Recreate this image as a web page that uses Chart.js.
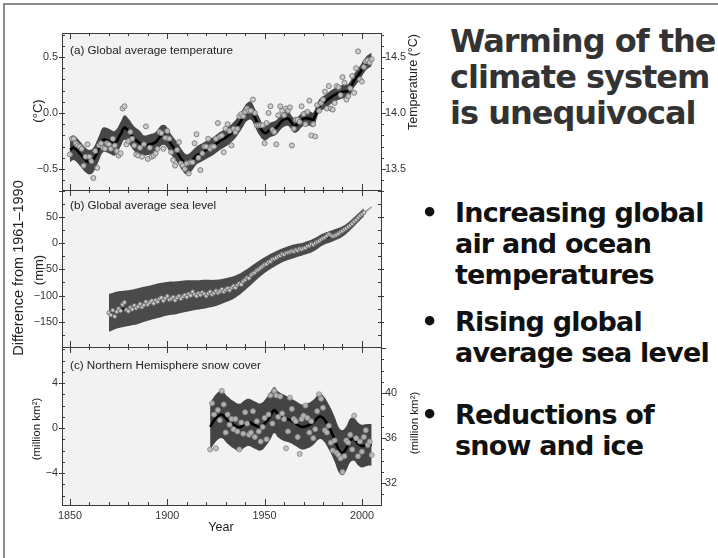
<!DOCTYPE html>
<html>
<head>
<meta charset="utf-8">
<script src="https://cdn.jsdelivr.net/npm/chart.js@4.4.1/dist/chart.umd.min.js"></script>
<style>
html, body { margin: 0; padding: 0; background: #fff; }
#page { position: relative; width: 718px; height: 558px; overflow: hidden; background: #fff;
        font-family: "Liberation Sans", Arial, sans-serif; }
#frame { position: absolute; left: 3px; top: 3px; width: 730px; height: 570px;
         border-top: 2px solid #8c8c8c; border-left: 2px solid #8c8c8c; }
canvas { position: absolute; left: 0; top: 0; }
.lbl { position: absolute; white-space: nowrap; color: #222; line-height: 1; }
.rot { transform: translate(-50%, -50%) rotate(-90deg); }
.ptitle { position: absolute; left: 70px; white-space: nowrap; color: #222; font-size: 11.7px;
          line-height: 1; transform: translateY(-50%); }
.ttl { position: absolute; left: 450px; top: 23px; font: bold 32px/36px "DejaVu Sans", Verdana, sans-serif;
       letter-spacing: -1px; color: #333; white-space: nowrap; z-index: 2; }
.bl { position: absolute; left: 455px; font: bold 27px/31px "DejaVu Sans", Verdana, sans-serif;
      letter-spacing: -0.8px; color: #111; white-space: nowrap; z-index: 2; }
.dot { position: absolute; left: 421px; font: bold 27px/31px "DejaVu Sans", Verdana, sans-serif;
       color: #111; z-index: 2; }
</style>
</head>
<body>
<div id="page">
  <div id="frame"></div>
  <canvas id="chartA" width="440" height="558"></canvas>
  <canvas id="chartB" width="440" height="558"></canvas>
  <canvas id="chartC" width="440" height="558"></canvas>

  <div class="ptitle" style="top:50px">(a) Global average temperature</div>
  <div class="ptitle" style="top:205px">(b) Global average sea level</div>
  <div class="ptitle" style="top:365px">(c) Northern Hemisphere snow cover</div>

  <div class="lbl rot" style="left:18px;top:268px;font-size:14.5px">Difference from 1961–1990</div>
  <div class="lbl rot" style="left:37px;top:111px;font-size:13px">(°C)</div>
  <div class="lbl rot" style="left:38px;top:270px;font-size:13px">(mm)</div>
  <div class="lbl rot" style="left:37px;top:429px;font-size:11.5px">(million km²)</div>
  <div class="lbl rot" style="left:413px;top:82px;font-size:12.5px">Temperature (°C)</div>
  <div class="lbl rot" style="left:415px;top:423px;font-size:11.5px">(million km²)</div>
  <div class="lbl" style="left:221px;top:527px;font-size:12.5px;transform:translate(-50%,-50%)">Year</div>

  <div class="ttl">Warming of the<br>climate system<br>is unequivocal</div>

  <div class="dot" style="top:197px">•</div>
  <div class="bl" style="top:197px">Increasing global<br>air and ocean<br>temperatures</div>
  <div class="dot" style="top:306px">•</div>
  <div class="bl" style="top:306px">Rising global<br>average sea level</div>
  <div class="dot" style="top:399px">•</div>
  <div class="bl" style="top:399px">Reductions of<br>snow and ice</div>
</div>

<script>
// ---- (a) global average temperature, anomaly from 1961-1990 (deg C), 1850-2005
const tempStart = 1850;
const tempAnom = [
  -0.37, -0.23, -0.23, -0.27, -0.29, -0.30, -0.32, -0.47, -0.39, -0.28,
  -0.39, -0.43, -0.58, -0.34, -0.49, -0.29, -0.27, -0.31, -0.32, -0.27,
  -0.28, -0.32, -0.23, -0.29, -0.34, -0.38, -0.36, 0.04, 0.06, -0.28,
  -0.25, -0.17, -0.23, -0.29, -0.37, -0.38, -0.31, -0.39, -0.28, -0.12,
  -0.41, -0.31, -0.39, -0.38, -0.36, -0.32, -0.17, -0.18, -0.32, -0.22,
  -0.16, -0.23, -0.35, -0.42, -0.47, -0.33, -0.26, -0.45, -0.47, -0.50,
  -0.45, -0.54, -0.44, -0.44, -0.27, -0.19, -0.40, -0.51, -0.36, -0.30,
  -0.30, -0.23, -0.32, -0.30, -0.30, -0.23, -0.09, -0.21, -0.20, -0.35,
  -0.14, -0.10, -0.16, -0.29, -0.14, -0.17, -0.14, -0.03, -0.01, -0.03,
  0.01, 0.04, 0.02, 0.02, 0.12, 0.00, -0.11, -0.11, -0.11, -0.11,
  -0.27, -0.09, 0.00, 0.06, -0.15, -0.17, -0.28, -0.02, 0.06, 0.02,
  -0.02, 0.04, 0.02, 0.05, -0.29, -0.14, -0.06, -0.06, -0.08, 0.06,
  -0.01, -0.10, 0.01, 0.11, -0.20, -0.10, -0.21, 0.07, 0.02, 0.09,
  0.12, 0.19, 0.04, 0.24, 0.04, 0.03, 0.09, 0.24, 0.23, 0.16,
  0.32, 0.27, 0.12, 0.15, 0.22, 0.33, 0.18, 0.40, 0.55, 0.30,
  0.28, 0.41, 0.46, 0.47, 0.45, 0.48
];
const tempSmoothYears = [1850, 1852, 1855, 1858, 1860, 1862, 1865, 1867, 1870, 1873,
  1876, 1878, 1880, 1883, 1886, 1888, 1891, 1894, 1897, 1899,
  1902, 1905, 1908, 1910, 1912, 1915, 1918, 1921, 1924, 1927,
  1930, 1933, 1936, 1939, 1941, 1943, 1945, 1947, 1950, 1953,
  1956, 1959, 1962, 1965, 1967, 1970, 1973, 1975, 1978, 1981,
  1984, 1987, 1990, 1993, 1996, 1999, 2002, 2005];
const tempSmooth = [-0.33, -0.31, -0.36, -0.42, -0.44, -0.42, -0.31, -0.24, -0.25, -0.27,
  -0.19, -0.13, -0.16, -0.23, -0.27, -0.29, -0.28, -0.26, -0.20, -0.20,
  -0.28, -0.35, -0.43, -0.46, -0.44, -0.38, -0.35, -0.32, -0.29, -0.25,
  -0.22, -0.18, -0.12, -0.04, 0.01, 0.02, -0.04, -0.11, -0.18, -0.15,
  -0.13, -0.07, -0.05, -0.11, -0.10, -0.05, -0.05, -0.06, 0.06, 0.10,
  0.14, 0.17, 0.19, 0.20, 0.29, 0.36, 0.44, 0.48];
const tempHalf = [0.11, 0.11, 0.11, 0.11, 0.11, 0.11, 0.11, 0.11, 0.11, 0.11,
  0.11, 0.11, 0.11, 0.11, 0.11, 0.09, 0.09, 0.09, 0.09, 0.09,
  0.09, 0.09, 0.09, 0.09, 0.09, 0.08, 0.08, 0.08, 0.08, 0.08,
  0.08, 0.08, 0.08, 0.08, 0.08, 0.08, 0.08, 0.08, 0.065, 0.065,
  0.065, 0.065, 0.065, 0.065, 0.065, 0.065, 0.065, 0.065, 0.06, 0.06,
  0.06, 0.06, 0.06, 0.06, 0.06, 0.06, 0.06, 0.06];
const tempTicks = [-0.5, 0.0, 0.5];
const tempRightTicks = [13.5, 14.0, 14.5];

// ---- (b) global average sea level (mm), 1870-2001 + satellite
const seaStart = 1870;
const seaLevel = [
  -133, -137, -128, -140, -131, -125, -129, -117, -113, -127,
  -130, -123, -126, -119, -124, -121, -116, -122, -118, -112,
  -117, -113, -110, -115, -109, -112, -106, -104, -110, -105,
  -101, -108, -106, -103, -109, -104, -101, -106, -102, -99,
  -103, -97, -100, -93, -98, -101, -96, -99, -94, -97,
  -101, -96, -93, -98, -95, -91, -95, -92, -88, -93,
  -89, -86, -90, -85, -82, -85, -80, -77, -79, -73,
  -70, -66, -67, -61, -58, -56, -52, -50, -47, -44,
  -41, -40, -36, -35, -31, -30, -28, -25, -24, -21,
  -22, -19, -18, -17, -15, -16, -13, -14, -11, -12,
  -10, -9, -6, -5, -2, -3, 0, 2, 4, 7,
  9, 11, 14, 17, 15, 13, 14, 16, 18, 21,
  23, 26, 28, 31, 34, 37, 41, 44, 48, 52,
  55, 58
];
const seaSmoothYears = [1870, 1875, 1880, 1885, 1890, 1895, 1900, 1905, 1910, 1915,
  1920, 1925, 1930, 1935, 1940, 1945, 1950, 1955, 1960, 1965,
  1970, 1975, 1980, 1985, 1990, 1995, 2000, 2001];
const seaSmooth = [-133, -127, -124, -120, -115, -110, -106, -104, -101, -99,
  -97, -95, -90, -83, -71, -56, -42, -31, -22, -16,
  -11, -4, 7, 14, 22, 37, 55, 58];
const seaHalf = [36, 35, 34, 34, 33, 33, 32, 31, 30, 28,
  27, 25, 23, 21, 19, 17, 15, 14, 13, 13,
  12, 12, 11, 11, 10, 9, 8, 8];
const seaSatYears = [1993, 1995, 1997, 1999, 2001, 2003, 2005];
const seaSat = [30, 36, 44, 50, 57, 63, 69];
const seaTicks = [-150, -100, -50, 0, 50];

// ---- (c) Northern Hemisphere snow cover (million km2), 1922-2005
const snowStart = 1922;
const snowCover = [
  -1.9, 2.2, 1.2, -1.8, 1.6, 0.7, 3.3, 2.1,
  -0.4, 1.2, 0.3, 0.8, -0.1, 0.8, -0.3, -1.9, 0.5, -0.5,
  1.4, 0.4, -0.6, -0.4, 1.5, -0.8, 0.6, -0.3, -1.2, 0.1,
  0.9, -1.0, 1.2, 2.9, 0.4, 3.3, 2.9, 1.0, 2.8, 1.3,
  0.8, -1.8, -0.3, 2.7, 1.7, 0.8, 0.6, -0.8, -2.3, 0.8,
  1.1, 2.0, 0.9, -0.4, 0.6, -0.9, -0.1, 1.5, 3.0, 2.6,
  1.8, -0.2, -0.4, 0.2, -1.3, -2.0, -1.1, -2.2, -2.4, -2.7,
  -3.9, -2.5, -1.1, -1.3, -0.6, -1.9, 1.1, -0.9, -2.5, -1.2,
  -2.1, -0.8, -0.2, -1.5, -1.2, -2.4
];
const snowSmoothYears = [1922, 1925, 1928, 1931, 1934, 1937, 1940, 1942, 1945, 1948,
  1951, 1953, 1955, 1957, 1960, 1963, 1966, 1969, 1972, 1975,
  1978, 1980, 1983, 1986, 1988, 1990, 1992, 1994, 1996, 1998,
  2000, 2003, 2005];
const snowSmooth = [0.1, 0.9, 1.2, 0.7, 0.3, 0.05, 0.4, 0.5, 0.25, 0.1,
  0.6, 1.1, 1.6, 1.2, 0.9, 0.7, 0.4, 0.1, 0.2, 0.5,
  1.0, 0.9, 0.1, -1.0, -1.9, -2.2, -1.8, -1.1, -1.0, -1.4,
  -1.6, -1.5, -1.5];
const snowHalf = [2.1, 2.1, 2.1, 2.1, 2.1, 2.1, 2.1, 2.1, 2.1, 2.1,
  2.1, 2.1, 2.05, 2.05, 2.05, 2.0, 2.0, 2.0, 2.0, 2.0,
  2.0, 2.0, 2.0, 2.0, 2.0, 2.0, 1.95, 1.95, 1.9, 1.9,
  1.9, 1.85, 1.85];
const snowTicks = [-4, 0, 4];
const snowRightTicks = [32, 36, 40];
const yearTicks = [1850, 1900, 1950, 2000];

// ---------------------------------------------------------------------------
Chart.defaults.font.family = '"Liberation Sans", Arial, sans-serif';
Chart.defaults.font.size = 10.8;
Chart.defaults.color = '#333';

const X_MIN = 1845.9, X_MAX = 2009.8;

function annual(start, vals) {
  return vals.map((v, i) => ({ x: start + i, y: v }));
}
function pairs(xs, ys) {
  return ys.map((y, i) => ({ x: xs[i], y: y }));
}
function edge(xs, ys, hw, sign) {
  return ys.map((y, i) => ({ x: xs[i], y: y + sign * hw[i] }));
}
function fmt(d) {
  return v => (v < 0 ? '\u2212' : '') + Math.abs(v).toFixed(d);
}
function fixedTicks(list) {
  return s => { s.ticks = list.map(v => ({ value: v })); };
}

// panel background, frame and inward / outward tick marks
const framePlugin = {
  id: 'frame',
  beforeDraw(chart) {
    const a = chart.chartArea, ctx = chart.ctx;
    ctx.save();
    ctx.fillStyle = '#f2f2f2';
    ctx.fillRect(a.left, a.top, a.right - a.left, a.bottom - a.top);
    ctx.restore();
  },
  afterDraw(chart, args, opts) {
    const a = chart.chartArea, ctx = chart.ctx, sx = chart.scales.x;
    ctx.save();
    ctx.strokeStyle = '#3a3a3a';
    ctx.lineWidth = 1;
    ctx.beginPath();
    for (let yr = 1850; yr <= 2000; yr += 10) {
      const x = Math.round(sx.getPixelForValue(yr)) + 0.5;
      const len = yr % 50 === 0 ? 6 : 3;
      ctx.moveTo(x, a.top); ctx.lineTo(x, a.top + len);
      ctx.moveTo(x, a.bottom); ctx.lineTo(x, a.bottom - len);
    }
    const side = (scale, x, dir, o) => {
      for (let k = Math.ceil(scale.min / o.minor - 1e-9); k * o.minor <= scale.max + 1e-9; k++) {
        const v = k * o.minor;
        const y = Math.round(scale.getPixelForValue(v)) + 0.5;
        const maj = Math.abs(v / o.major - Math.round(v / o.major)) < 1e-6;
        if (o.out) {
          ctx.moveTo(x, y); ctx.lineTo(x - dir * (maj ? 5 : 3), y);
        } else {
          ctx.moveTo(x - (maj ? dir * 3 : 0), y); ctx.lineTo(x + dir * 3, y);
        }
      }
    };
    side(chart.scales.y, a.left, 1, opts.left);
    side(chart.scales[opts.right.scale], a.right, -1, opts.right);
    ctx.stroke();
    ctx.strokeRect(Math.round(a.left) + 0.5, Math.round(a.top) + 0.5,
                   Math.round(a.right - a.left), Math.round(a.bottom - a.top));
    ctx.restore();
  }
};

function yAxis(pos, min, max, ticks, dec, width) {
  return {
    position: pos, min: min, max: max,
    afterBuildTicks: fixedTicks(ticks),
    afterFit: s => { s.width = width; },
    ticks: { callback: fmt(dec), padding: 4, color: '#333' },
    grid: { display: false, drawTicks: false },
    border: { display: false }
  };
}

function panel(id, datasets, scales, padding, frameOpts) {
  return new Chart(document.getElementById(id), {
    type: 'line',
    data: { datasets: datasets },
    options: {
      responsive: false,
      animation: false,
      devicePixelRatio: 1,
      events: [],
      layout: { padding: padding },
      plugins: { legend: { display: false }, tooltip: { enabled: false }, frame: frameOpts },
      scales: scales
    },
    plugins: [framePlugin]
  });
}

function pointsSet(data, r, fill, stroke) {
  return { data: data, showLine: false, pointRadius: r, pointBorderWidth: 0.9,
           pointBackgroundColor: fill, pointBorderColor: stroke, order: 0 };
}
function lineSet(data, color, width, order) {
  return { data: data, borderColor: color, borderWidth: width, pointRadius: 0,
           tension: 0.4, fill: false, order: order };
}
function bandSets(xs, ys, hw, color) {
  return [
    { data: edge(xs, ys, hw, 1), borderWidth: 0, pointRadius: 0, tension: 0.4,
      fill: '+1', backgroundColor: color, order: 3 },
    { data: edge(xs, ys, hw, -1), borderWidth: 0, pointRadius: 0, tension: 0.4,
      fill: false, order: 4 }
  ];
}

const xHidden = { type: 'linear', min: X_MIN, max: X_MAX, display: false };

// (a) temperature
panel('chartA', [
  pointsSet(annual(tempStart, tempAnom), 2.5, 'rgba(200,200,200,0.9)', '#777'),
  lineSet(pairs(tempSmoothYears, tempSmooth), '#000', 2.6, 1),
  ...bandSets(tempSmoothYears, tempSmooth, tempHalf, '#464646')
], {
  x: xHidden,
  y: yAxis('left', -0.6875, 0.714, tempTicks, 1, 62),
  y2: yAxis('right', 13.3125, 14.714, tempRightTicks, 1, 40)
}, { left: 0, right: 19, top: 33, bottom: 368 },
{ left: { minor: 0.1, major: 0.5 }, right: { scale: 'y2', minor: 0.1, major: 0.5, out: true } });

// (b) sea level
panel('chartB', [
  pointsSet(annual(seaStart, seaLevel), 2.0, 'rgba(215,215,215,0.9)', '#666'),
  lineSet(pairs(seaSmoothYears, seaSmooth), '#000', 1.5, 1),
  lineSet(pairs(seaSatYears, seaSat), '#9a9a9a', 1.5, 2),
  ...bandSets(seaSmoothYears, seaSmooth, seaHalf, '#4a4a4a')
], {
  x: xHidden,
  y: yAxis('left', -198, 101, seaTicks, 0, 62)
}, { left: 0, right: 59, top: 190, bottom: 211 },
{ left: { minor: 25, major: 50 }, right: { scale: 'y', minor: 25, major: 50 } });

// (c) snow cover
panel('chartC', [
  pointsSet(annual(snowStart, snowCover), 2.5, 'rgba(190,190,190,0.9)', '#8a8a8a'),
  lineSet(pairs(snowSmoothYears, snowSmooth), '#000', 2.6, 1),
  ...bandSets(snowSmoothYears, snowSmooth, snowHalf, '#444444')
], {
  x: {
    type: 'linear', min: X_MIN, max: X_MAX,
    afterBuildTicks: fixedTicks(yearTicks),
    afterFit: s => { s.height = 32; },
    ticks: { callback: v => String(v), padding: 5, maxRotation: 0, color: '#333' },
    grid: { display: false, drawTicks: false },
    border: { display: false }
  },
  y: yAxis('left', -6.84, 7.2, snowTicks, 0, 62),
  y2: yAxis('right', 30.06, 44.1, snowRightTicks, 0, 40)
}, { left: 0, right: 19, top: 347, bottom: 21 },
{ left: { minor: 1, major: 4 }, right: { scale: 'y2', minor: 1, major: 4, out: true } });
</script>
</body>
</html>
